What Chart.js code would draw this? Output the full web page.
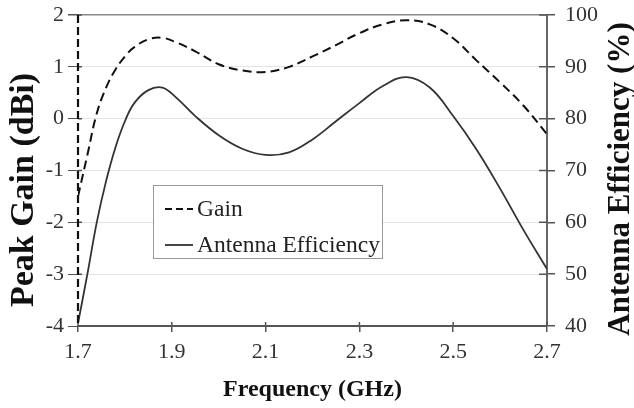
<!DOCTYPE html>
<html>
<head>
<meta charset="utf-8">
<script src="https://cdn.jsdelivr.net/npm/chart.js@4/dist/chart.umd.min.js"></script>
<style>
  html, body { margin: 0; padding: 0; background: #fff; }
  #wrap { width: 634px; height: 408px; }
</style>
</head>
<body>
<div id="wrap"><canvas id="chart" width="634" height="408"></canvas></div>
<script>
// Frequency points (GHz)
const freq = [1.70, 1.72, 1.74, 1.76, 1.78, 1.80, 1.82, 1.85, 1.88, 1.91, 1.95, 2.00, 2.05,
              2.10, 2.15, 2.20, 2.25, 2.30, 2.35, 2.40, 2.45, 2.50, 2.55, 2.60, 2.65, 2.70];
// Peak gain (dBi)
const gain = [-1.5, -0.7, 0.1, 0.6, 0.95, 1.2, 1.38, 1.53, 1.56, 1.47, 1.3, 1.05, 0.93,
              0.9, 1.0, 1.2, 1.42, 1.65, 1.82, 1.9, 1.82, 1.55, 1.12, 0.7, 0.25, -0.3];
// Antenna efficiency (%)
const efficiency = [40.5, 50, 60, 68, 74.5, 79.5, 83, 85.5, 86, 84, 80.5, 76.8, 74.2,
                    73, 73.5, 76, 79.5, 83, 86.3, 88, 86, 80.5, 74, 66.5, 58.5, 51];

const xTicks = [1.7, 1.9, 2.1, 2.3, 2.5, 2.7];
const gainTicks = [-4, -3, -2, -1, 0, 1, 2];
const effTicks = [40, 50, 60, 70, 80, 90, 100];

const serif = 'Liberation Serif, Times New Roman, serif';

function toPoints(xs, ys) {
    return xs.map((x, i) => ({ x: x, y: ys[i] }));
}

function fixedTicks(list) {
    return scale => { scale.ticks = list.map(v => ({ value: v })); };
}

// fixed width, no extra top/bottom room for the end labels
function fitY(width) {
    return scale => {
        scale.width = width;
        scale.paddingTop = 0;
        scale.paddingBottom = 0;
    };
}

// legend box drawn inside the plot area
const boxLegend = {
    id: 'boxLegend',
    afterDraw(chart) {
        const ctx = chart.ctx;
        const left = 153, top = 185, w = 229, h = 73;
        ctx.save();
        ctx.fillStyle = '#fff';
        ctx.fillRect(left, top, w, h);
        ctx.strokeStyle = '#999';
        ctx.lineWidth = 1;
        ctx.strokeRect(left + 0.5, top + 0.5, w, h);
        ctx.font = '23.5px ' + serif;
        ctx.textBaseline = 'middle';
        chart.data.datasets.forEach((ds, i) => {
            const y = top + 24 + i * 36;
            ctx.beginPath();
            ctx.setLineDash(ds.borderDash ? [7, 4] : []);
            ctx.strokeStyle = ds.borderColor;
            ctx.lineWidth = ds.borderWidth;
            ctx.moveTo(165, y);
            ctx.lineTo(193, y);
            ctx.stroke();
            ctx.setLineDash([]);
            ctx.fillStyle = '#222';
            ctx.fillText(ds.label, 197, y + 1);
        });
        ctx.restore();
    }
};

// dashed left axis line and short tick marks that cross into the plot area
const axisMarks = {
    id: 'axisMarks',
    afterDatasetsDraw(chart) {
        const ctx = chart.ctx;
        const a = chart.chartArea;
        const s = chart.scales;
        ctx.save();
        ctx.lineWidth = 1.5;
        ctx.strokeStyle = '#555';
        ctx.beginPath();
        gainTicks.forEach(v => {
            const y = s.yGain.getPixelForValue(v);
            ctx.moveTo(a.left, y); ctx.lineTo(a.left + 4, y);
        });
        effTicks.forEach(v => {
            const y = s.yEff.getPixelForValue(v);
            ctx.moveTo(a.right - 8, y); ctx.lineTo(a.right, y);
        });
        xTicks.forEach(v => {
            const x = s.x.getPixelForValue(v);
            ctx.moveTo(x, a.bottom); ctx.lineTo(x, a.bottom - 4);
        });
        ctx.stroke();
        ctx.beginPath();
        ctx.strokeStyle = '#111';
        ctx.lineWidth = 2.2;
        ctx.setLineDash([8, 4]);
        ctx.moveTo(a.left, a.top);
        ctx.lineTo(a.left, a.bottom);
        ctx.stroke();
        ctx.restore();
    }
};

// rotated axis titles for the two value axes
const sideTitles = {
    id: 'sideTitles',
    afterDraw(chart) {
        const ctx = chart.ctx;
        const s = chart.scales;
        const put = (text, x, y, size) => {
            ctx.save();
            ctx.translate(x, y);
            ctx.rotate(-Math.PI / 2);
            ctx.font = 'bold ' + size + 'px ' + serif;
            ctx.fillStyle = '#111';
            ctx.textAlign = 'center';
            ctx.textBaseline = 'middle';
            ctx.fillText(text, 0, 0);
            ctx.restore();
        };
        put(s.yGain.options.title.text, 24, 190, 34);
        put(s.yEff.options.title.text, 621, 179, 31);
    }
};

new Chart(document.getElementById('chart'), {
    type: 'line',
    data: {
        datasets: [{
            label: 'Gain',
            data: toPoints(freq, gain),
            yAxisID: 'yGain',
            borderColor: '#111',
            borderWidth: 2,
            borderDash: [9, 5],
            pointRadius: 0,
            tension: 0.4
        }, {
            label: 'Antenna Efficiency',
            data: toPoints(freq, efficiency),
            yAxisID: 'yEff',
            borderColor: '#333',
            borderWidth: 1.8,
            pointRadius: 0,
            tension: 0.4
        }]
    },
    options: {
        responsive: false,
        animation: false,
        layout: { padding: { top: 15, left: 0, right: 0, bottom: 0 } },
        plugins: {
            legend: { display: false },
            tooltip: { enabled: false }
        },
        scales: {
            x: {
                type: 'linear',
                min: 1.7,
                max: 2.7,
                afterBuildTicks: fixedTicks(xTicks),
                afterFit: scale => { scale.height = 82; },
                ticks: {
                    color: '#333',
                    font: { family: serif, size: 22 },
                    padding: 7,
                    maxRotation: 0,
                    callback: v => v.toFixed(1)
                },
                grid: { drawOnChartArea: false, tickLength: 6, color: '#555', lineWidth: 1.5 },
                border: { color: '#555', width: 2 },
                title: {
                    display: true,
                    text: 'Frequency (GHz)',
                    color: '#111',
                    font: { family: serif, size: 24, weight: 'bold' },
                    padding: { top: 0, bottom: 4 }
                }
            },
            yGain: {
                position: 'left',
                min: -4,
                max: 2,
                afterBuildTicks: fixedTicks(gainTicks),
                afterFit: fitY(78),
                ticks: {
                    color: '#333',
                    font: { family: serif, size: 22 },
                    padding: 4
                },
                grid: {
                    color: ctx => ctx.tick && ctx.tick.value === 2 ? '#8a8a8a' : '#e4e4e4',
                    lineWidth: ctx => ctx.tick && ctx.tick.value === 2 ? 1.5 : 1,
                    tickColor: '#555',
                    tickLength: 10
                },
                border: { display: false },
                title: { display: false, text: 'Peak Gain (dBi)' }
            },
            yEff: {
                position: 'right',
                min: 40,
                max: 100,
                afterBuildTicks: fixedTicks(effTicks),
                afterFit: fitY(87),
                ticks: {
                    color: '#333',
                    font: { family: serif, size: 22 },
                    padding: 10
                },
                grid: { drawOnChartArea: false, color: '#555', lineWidth: 1.5, tickLength: 8 },
                border: { color: '#666', width: 2 },
                title: { display: false, text: 'Antenna Efficiency (%)' }
            }
        }
    },
    plugins: [boxLegend, axisMarks, sideTitles]
});
</script>
</body>
</html>
